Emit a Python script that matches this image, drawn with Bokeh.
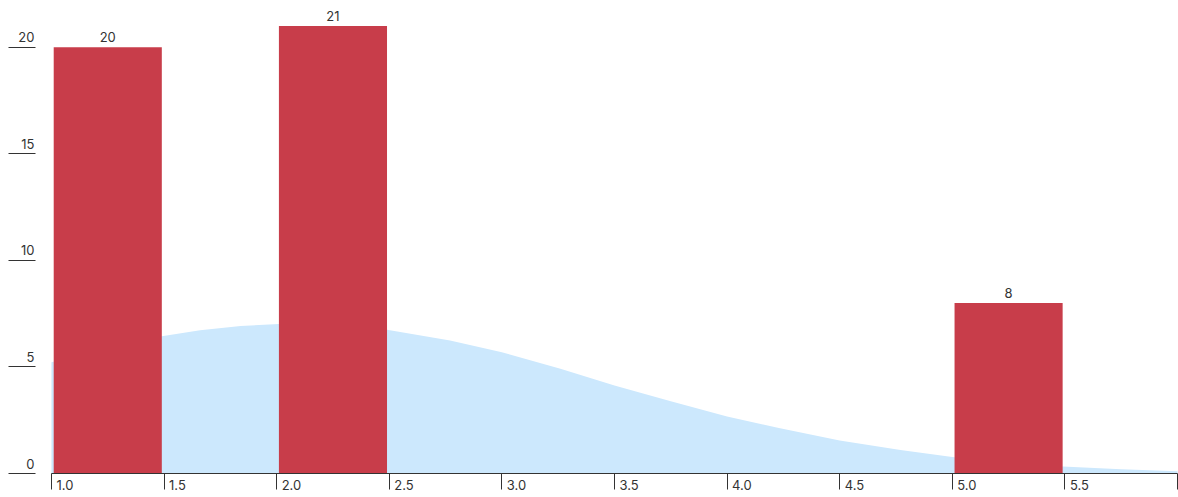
from bokeh.plotting import figure
from bokeh.models import (ColumnDataSource, LabelSet, FixedTicker, Range1d, LinearAxis)
from bokeh.core.properties import value
from bokeh.embed import file_html
from bokeh.resources import INLINE

# ---- data ----
bin_left = [1.0, 2.0, 5.0]
bin_width = 0.5
counts = [20, 21, 8]

curve_x = [1.0, 1.25, 1.49, 1.66, 1.84, 2.01, 2.25, 2.49, 2.77, 3.0, 3.26, 3.5,
           3.75, 4.0, 4.23, 4.5, 4.77, 5.0, 5.25, 5.49, 5.75, 6.0]
curve_y = [5.22, 5.9, 6.44, 6.72, 6.92, 7.02, 6.96, 6.74, 6.24, 5.69, 4.91, 4.13,
           3.39, 2.67, 2.14, 1.55, 1.10, 0.77, 0.52, 0.33, 0.2, 0.1]

x_ticks = [1.0, 1.5, 2.0, 2.5, 3.0, 3.5, 4.0, 4.5, 5.0, 5.5, 6.0]
x_tick_labels = ["1.0", "1.5", "2.0", "2.5", "3.0", "3.5", "4.0", "4.5", "5.0", "5.5", ""]
y_ticks = [0, 5, 10, 15, 20]
y_tick_labels = ["0", "5", "10", "15", "20"]

FONT = "Inter"
TEXT_COLOR = "#333333"
AXIS_COLOR = "#333333"
BAR_COLOR = "#c83d4a"
AREA_COLOR = "#cce8fd"

W, H = 1178, 497
# scale: 1.0 at px 51, 0.5 per 112.7 px; y: 0 at px 473, 21.31 px per unit
PX_X = 225.4
PX_Y = 21.31
x_start = 1.0 - 51 / PX_X
x_end = 1.0 + (W - 51 + 1) / PX_X
y_start = -(H - 473) / PX_Y
y_end = 473 / PX_Y
y_axis_x = 1.0 - 16 / PX_X

p = figure(width=W, height=H, output_backend="svg", toolbar_location=None,
           x_range=Range1d(x_start, x_end), y_range=Range1d(y_start, y_end),
           x_axis_type=None, y_axis_type=None,
           min_border_left=0, min_border_right=0, min_border_top=0,
           min_border_bottom=0)
p.outline_line_color = None
p.background_fill_color = "white"
p.border_fill_color = "white"

# density area
p.varea(x=curve_x, y1=[0] * len(curve_x), y2=curve_y, fill_color=AREA_COLOR)

# bars
left = [b + 0.01 for b in bin_left]
right = [b + bin_width - 0.01 for b in bin_left]
centers = [b + bin_width / 2 for b in bin_left]
bar_src = ColumnDataSource(dict(left=left, right=right, top=counts,
                                bottom=[0] * len(counts), x=centers,
                                label=[str(c) for c in counts]))
p.quad(left="left", right="right", top="top", bottom="bottom", source=bar_src,
       fill_color=BAR_COLOR, line_color=None)

p.add_layout(LabelSet(x="x", y="top", text="label", source=bar_src,
                      text_align="center", text_baseline="middle", y_offset=10,
                      text_font=value(FONT), text_font_size="13px",
                      text_color=TEXT_COLOR))

# x axis: line + ticks only, fixed at y = 0
xa = LinearAxis(fixed_location=0, ticker=FixedTicker(ticks=x_ticks),
                bounds=(1.0, 6.0),
                axis_line_color=AXIS_COLOR, major_tick_line_color=AXIS_COLOR,
                major_tick_in=0, major_tick_out=16, minor_tick_line_color=None,
                major_label_overrides={t: "" for t in x_ticks},
                major_label_standoff=0)
p.add_layout(xa, "below")

# y axis: ticks only
ya = LinearAxis(fixed_location=y_axis_x, ticker=FixedTicker(ticks=y_ticks),
                axis_line_color=None, major_tick_line_color=AXIS_COLOR,
                major_tick_in=0, major_tick_out=27, minor_tick_line_color=None,
                major_label_overrides={t: "" for t in y_ticks},
                major_label_standoff=0)
p.add_layout(ya, "left")

# tick labels
xl_src = ColumnDataSource(dict(x=x_ticks, y=[0] * len(x_ticks), t=x_tick_labels))
p.add_layout(LabelSet(x="x", y="y", text="t", source=xl_src,
                      text_align="left", text_baseline="middle",
                      x_offset=5, y_offset=-11,
                      text_font=value(FONT), text_font_size="13px",
                      text_color=TEXT_COLOR))
yl_src = ColumnDataSource(dict(y=y_ticks, x=[y_axis_x] * len(y_ticks), t=y_tick_labels))
p.add_layout(LabelSet(x="x", y="y", text="t", source=yl_src,
                      text_align="right", text_baseline="middle",
                      x_offset=-1, y_offset=10,
                      text_font=value(FONT), text_font_size="13px",
                      text_color=TEXT_COLOR))

open("out.html", "w").write(file_html(p, INLINE))
